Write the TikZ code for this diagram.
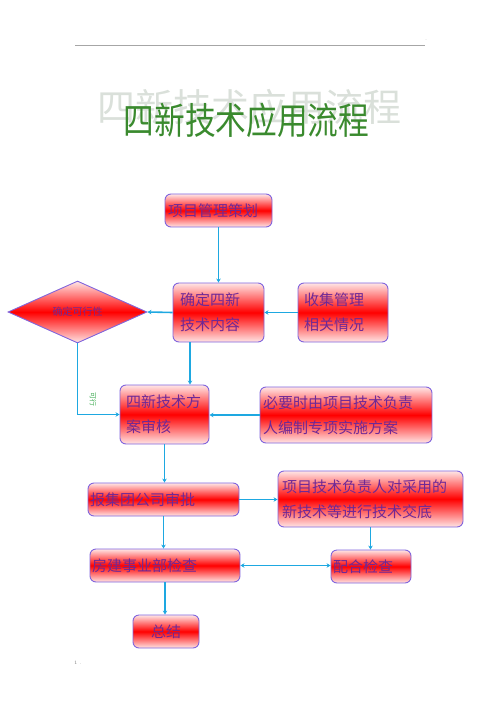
\documentclass[tikz,border=0pt]{standalone}
\usepackage{fontspec}
\newfontfamily\cjk{Noto Sans CJK SC}
\usetikzlibrary{shapes.geometric,arrows.meta}
\definecolor{bordc}{RGB}{128,100,220}
\definecolor{txtc}{RGB}{110,40,150}
\definecolor{arrc}{RGB}{30,168,225}
\definecolor{ttlg}{RGB}{58,138,46}
\definecolor{wmk}{RGB}{218,224,218}
\definecolor{lblg}{RGB}{60,170,80}
\tikzset{
  box/.style={draw=bordc, line width=0.9pt, rounded corners=6pt,
    top color=white!90!red, bottom color=white!90!red, middle color=red,
    text=txtc, font=\cjk\fontsize{15}{25}\selectfont, align=left,
    inner ysep=0pt},
  dia/.style={diamond, draw=bordc, line width=0.9pt,
    top color=white!90!red, bottom color=white!90!red, middle color=red,
    text=txtc, font=\cjk\fontsize{10}{12}\selectfont, inner sep=0pt},
  arr/.style={draw=arrc, line width=1.6pt, -{Stealth[length=4pt,width=4.5pt]}},
  darr/.style={draw=arrc, line width=1.6pt, {Stealth[length=4pt,width=4.5pt]}-{Stealth[length=4pt,width=4.5pt]}}
}
\begin{document}
\begin{tikzpicture}[x=1pt,y=-1pt]
\useasboundingbox (0,0) rectangle (500,708);
% header line
\draw[gray!70, line width=0.8pt] (75,45) coordinate (hl) -- (425,45) coordinate (hr);
\node[text=gray, font=\fontsize{5}{6}\selectfont] (hdot) at (426,40) {.};
% title
\node[text=wmk, font=\cjk\fontsize{38}{40}\selectfont] (wm) at (249.5,107.5) {四新技术应用流程};
\node[text=ttlg, font=\cjk\fontsize{37}{40}\selectfont, xscale=0.83] (title) at (246.5,120) {四新技术应用流程};
% boxes
\node[box, minimum width=107pt, minimum height=33pt, text width=101pt, inner xsep=3pt] (b1) at (218.5,210.5) {项目管理策划};
\node[box, minimum width=91pt, minimum height=59pt, text width=77pt, inner xsep=7pt] (b2) at (218.5,312.5) {确定四新\\技术内容};
\node[box, minimum width=90pt, minimum height=59pt, text width=78pt, inner xsep=6pt] (b3) at (343,312.5) {收集管理\\相关情况};
\node[dia, minimum width=139pt, minimum height=62pt] (d) at (77.5,312) {确定可行性};
\node[box, minimum width=89pt, minimum height=59pt, text width=77pt, inner xsep=6pt] (b4) at (164.5,414.5) {四新技术方\\案审核};
\node[box, minimum width=172pt, minimum height=56pt, text width=166pt, inner xsep=3pt] (b5) at (346,415) {必要时由项目技术负责\\人编制专项实施方案};
\node[box, minimum width=151pt, minimum height=33pt, text width=147pt, inner xsep=2pt] (b6) at (163.5,499.5) {报集团公司审批};
\node[box, minimum width=185pt, minimum height=56pt, text width=177pt, inner xsep=4pt] (b7) at (370.5,499) {项目技术负责人对采用的\\新技术等进行技术交底};
\node[box, minimum width=150pt, minimum height=33pt, text width=146pt, inner xsep=2pt] (b8) at (165,565.5) {房建事业部检查};
\node[box, minimum width=80pt, minimum height=33pt, text width=76pt, inner xsep=2pt] (b9) at (371,566.5) {配合检查};
\node[box, minimum width=66pt, minimum height=33pt, text width=60pt, inner xsep=3pt, align=center] (b10) at (166,631.5) {总结};
% connectors
\draw[arr] (b1.south) -- (b1.south |- b2.north);
\draw[arr] (b3.west) -- (b3.west -| b2.east);
\draw[arr] (b2.west) -- (d.east);
\draw[arr] ([xshift=-28.5pt]b2.south) -- ([xshift=-28.5pt]b2.south |- b4.north);
\draw[arr] (d.south) |- (b4.west);
\node[text=lblg, font=\cjk\fontsize{7}{8}\selectfont, rotate=-90] (lbl) at (93,399) {可行};
\draw[arr] (b5.west) -- (b5.west -| b4.east);
\draw[arr] (b4.south) -- (b4.south |- b6.north);
\draw[arr] (b6.east) -- (b6.east -| b7.west);
\draw[arr] (b6.south) -- (b6.south |- b8.north);
\draw[arr] (b7.south) -- (b7.south |- b9.north);
\draw[darr] (b8.east) -- (b8.east -| b9.west);
\draw[arr] (b8.south) -- (b8.south |- b10.north);
% page mark
\node[text=gray, font=\fontsize{5}{6}\selectfont] (pg) at (78,663) {1 .};
\end{tikzpicture}
\end{document}
